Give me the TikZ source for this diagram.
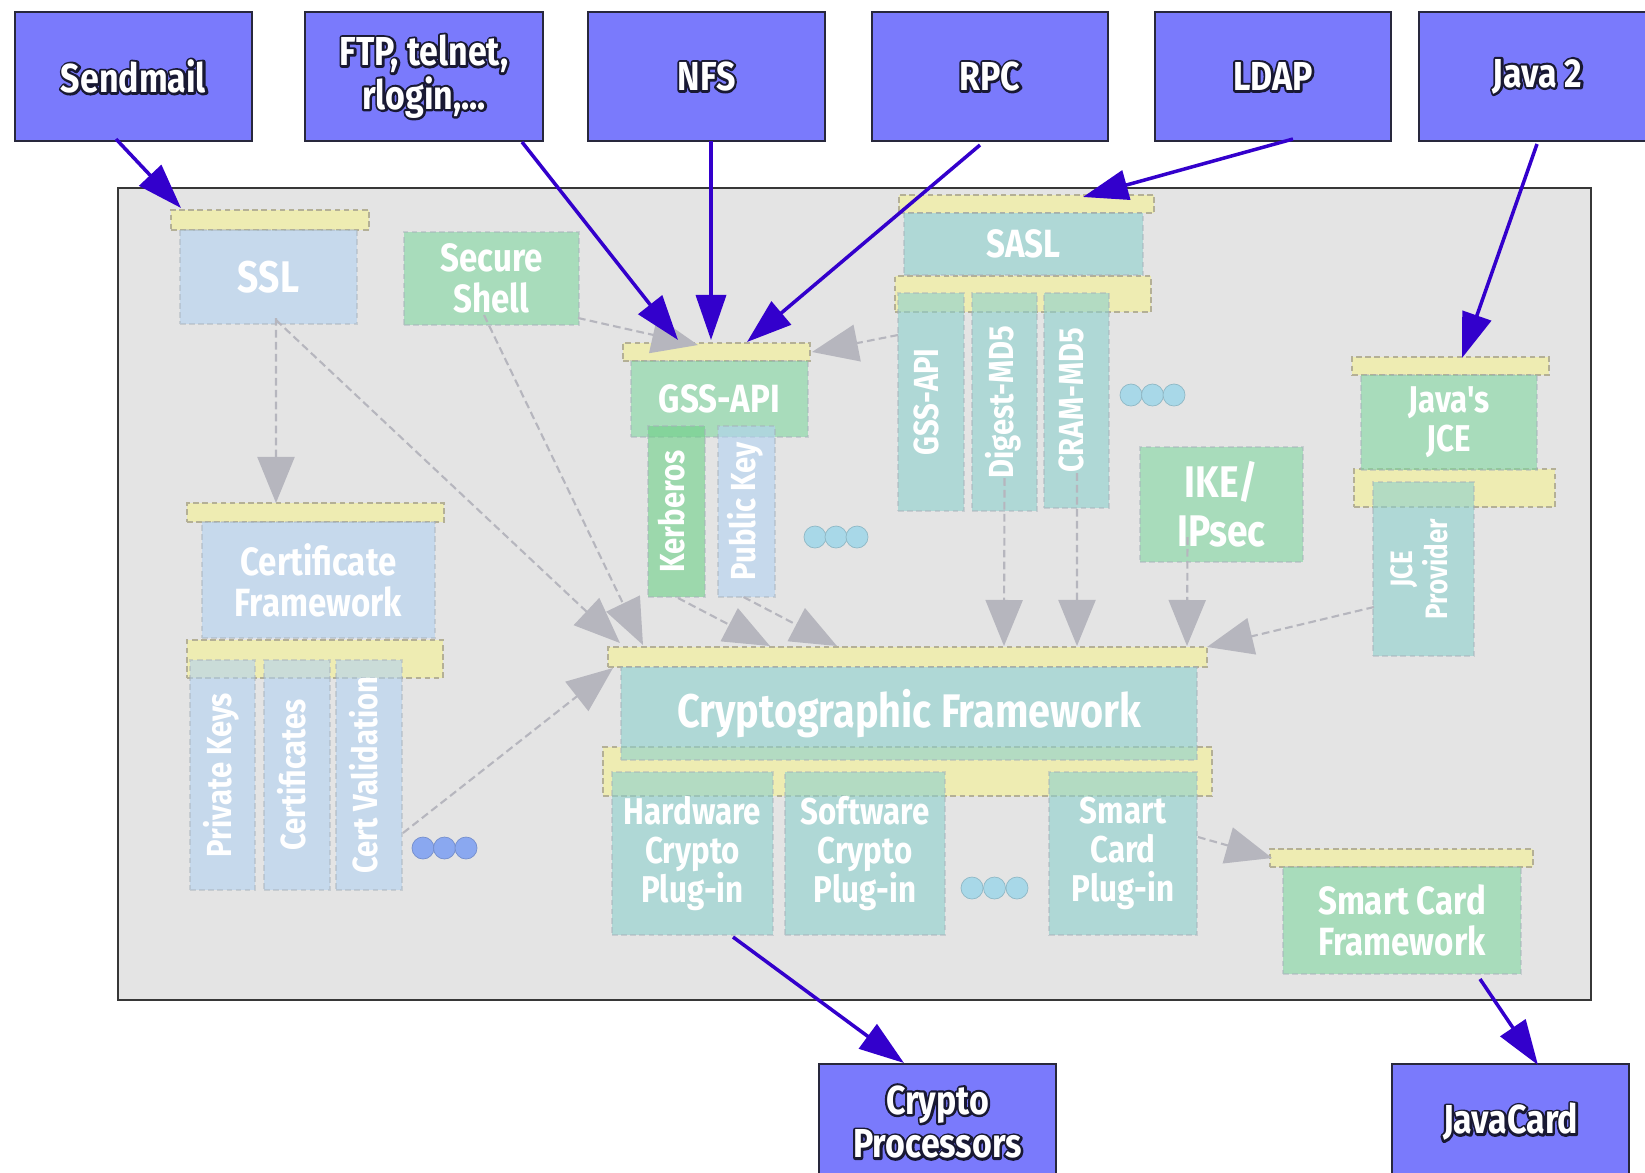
\documentclass[tikz,border=0pt]{standalone}
\usepackage{fontspec}
\usetikzlibrary{arrows.meta,calc}
\newfontfamily\lblfont{Fira Sans}[FakeStretch=0.84]

\definecolor{extfill}{RGB}{122,122,252}
\definecolor{extline}{RGB}{40,40,60}
\definecolor{bgfill}{RGB}{228,228,228}
\definecolor{bgline}{RGB}{55,55,55}
\definecolor{barfill}{RGB}{238,236,178}
\definecolor{barline}{RGB}{180,176,150}
\definecolor{bluebox}{RGB}{178,210,242}
\definecolor{greenbox}{RGB}{128,215,161}
\definecolor{tealbox}{RGB}{141,208,205}
\definecolor{kerbbox}{RGB}{108,208,135}
\definecolor{boxline}{RGB}{165,175,185}
\definecolor{uarrow}{RGB}{51,0,204}
\definecolor{garrow}{RGB}{182,182,190}
\definecolor{dotcyan}{RGB}{168,216,232}
\definecolor{dotblue}{RGB}{138,168,240}

% outlined label text: a dark stroked copy (round joins) under the filled glyphs
\newcommand\ol[1]{\rlap{\special{pdf:literal direct 1 Tr 1.3 w 1 j 0.1 0.1 0.2 RG}#1\special{pdf:literal direct 0 Tr 0 j}}#1}
% vertical label text
\newcommand\vlab[1]{\rotatebox{90}{\begin{tabular}{@{}c@{}}#1\end{tabular}}}
% node from pixel corners: style, name, x1, y1, x2, y2, text
\newcommand\bx[7]{%
  \pgfmathsetmacro\bw{(#5-#3)*0.01}%
  \pgfmathsetmacro\bh{(#6-#4)*0.01}%
  \node[#1, minimum width=\bw cm, minimum height=\bh cm] (#2) at ({(#3+#5)/2},{(#4+#6)/2}) {#7};}

\tikzset{
  core/.style={draw=bgline, line width=0.6pt, fill=bgfill, inner sep=0pt, outer sep=0pt},
  ext/.style={draw=extline, line width=0.7pt, fill=extfill, text=white, align=center,
    inner sep=0pt, outer sep=0pt, font=\lblfont\bfseries\fontsize{11.5}{12.4}\selectfont},
  layer/.style={draw=boxline, dash pattern=on 1.6pt off 1pt, line width=0.3pt,
    fill opacity=0.6, draw opacity=0.45, text opacity=1, text=white, align=center,
    inner sep=0pt, outer sep=0pt},
  bluel/.style={layer, fill=bluebox},
  greenl/.style={layer, fill=greenbox},
  teall/.style={layer, fill=tealbox},
  kerbl/.style={layer, fill=kerbbox},
  bar/.style={draw=barline, dash pattern=on 1.6pt off 1pt, line width=0.3pt, fill=barfill,
    inner sep=0pt, outer sep=0pt},
  fxxl/.style={font=\lblfont\bfseries\fontsize{13.4}{14}\selectfont},
  fxl/.style={font=\lblfont\bfseries\fontsize{12.6}{14}\selectfont},
  fl/.style={font=\lblfont\bfseries\fontsize{11.2}{11.6}\selectfont},
  fm/.style={font=\lblfont\bfseries\fontsize{10.6}{11.2}\selectfont},
  fs/.style={font=\lblfont\bfseries\fontsize{9.9}{10.5}\selectfont},
  fxs/.style={font=\lblfont\bfseries\fontsize{8.8}{9.2}\selectfont},
  uarr/.style={draw=uarrow, line width=1pt, -{Triangle[length=0.45cm, width=0.3cm]}},
  garr/.style={draw=garrow, line width=0.6pt, dash pattern=on 2.2pt off 1.2pt,
    -{Triangle[length=0.46cm, width=0.37cm]}},
  dotc/.style={fill=dotcyan, draw=dotcyan!85!black, line width=0.2pt},
  dotb/.style={fill=dotblue, draw=dotblue!85!black, line width=0.2pt},
}

\begin{document}
\begin{tikzpicture}[x=0.01cm, y=-0.01cm]
\useasboundingbox (0,0) rectangle (1645,1172);
\clip (0,0) rectangle (1645,1172);
\fill[white] (0,0) rectangle (1645,1172);

% the framework area
\bx{core}{core}{118}{188}{1591}{1000}{}

% interface bars
\bx{bar}{sslbar}{171}{210}{369}{230}{}
\bx{bar}{gssbar}{623}{343}{810}{361}{}
\bx{bar}{saslbar}{899}{195}{1154}{213}{}
\bx{bar}{saslbarb}{895}{276}{1151}{312}{}
\bx{bar}{jcebar}{1352}{357}{1549}{375}{}
\bx{bar}{jcebarb}{1354}{469}{1555}{507}{}
\bx{bar}{certbar}{187}{503}{444}{522}{}
\bx{bar}{certbarb}{187}{640}{443}{678}{}
\bx{bar}{cfbar}{608}{647}{1207}{667}{}
\bx{bar}{cfbarb}{603}{747}{1212}{796}{}
\bx{bar}{scfbar}{1270}{849}{1533}{867}{}

% components
\bx{bluel,fxl}{ssl}{180}{230}{357}{324}{SSL}
\bx{greenl,fl}{shell}{404}{232}{579}{325}{Secure\\Shell}
\bx{greenl,fl}{gss}{631}{361}{808}{437}{GSS-API}
\bx{kerbl,fs}{kerb}{648}{426}{705}{597}{\vlab{Kerberos}}
\bx{bluel,fs}{pk}{718}{426}{775}{597}{\vlab{Public Key}}
\bx{teall,fl}{sasl}{904}{213}{1143}{275}{SASL}
\bx{teall,fs}{sgss}{898}{293}{964}{511}{\vlab{GSS-API}}
\bx{teall,fs}{dmd}{972}{293}{1037}{511}{\vlab{Digest-MD5}}
\bx{teall,fs}{cmd}{1044}{293}{1109}{508}{\vlab{CRAM-MD5}}
\bx{greenl,fxl}{ike}{1140}{447}{1303}{562}{IKE/\\IPsec}
\bx{greenl,fm}{jce}{1361}{375}{1537}{470}{Java's\\JCE}
\bx{teall,fxs}{jcep}{1373}{482}{1474}{656}{\vlab{JCE\\Provider}}
\bx{bluel,fl}{cert}{202}{522}{435}{638}{Certificate\\Framework}
\bx{bluel,fs}{pkeys}{190}{660}{255}{890}{\vlab{Private Keys}}
\bx{bluel,fs}{certs}{264}{660}{330}{890}{\vlab{Certificates}}
\bx{bluel,fs}{cval}{336}{660}{402}{890}{\vlab{Cert Validation}}
\bx{teall,fxxl}{cf}{621}{667}{1197}{760}{Cryptographic Framework}
\bx{teall,fm}{hw}{612}{772}{773}{935}{Hardware\\Crypto\\Plug-in}
\bx{teall,fm}{sw}{785}{772}{945}{935}{Software\\Crypto\\Plug-in}
\bx{teall,fm}{scp}{1049}{772}{1197}{935}{Smart\\Card\\Plug-in}
\bx{greenl,fl}{scf}{1283}{867}{1521}{974}{Smart Card\\Framework}

% "more" markers
\foreach \i in {0,1,2} {
  \path[dotc] (1131+21.5*\i,395) circle[radius=0.11cm];
  \path[dotc] (815+21*\i,537) circle[radius=0.11cm];
  \path[dotb] (423+21.5*\i,848) circle[radius=0.11cm];
  \path[dotc] (972+22.5*\i,888) circle[radius=0.11cm];
}

% external users and devices
\bx{ext}{send}{15}{12}{252}{141}{\ol{Sendmail}}
\bx{ext}{ftp}{305}{12}{543}{141}{\ol{FTP, telnet,}\\\ol{rlogin,...}}
\bx{ext}{nfs}{588}{12}{825}{141}{\ol{NFS}}
\bx{ext}{rpc}{872}{12}{1108}{141}{\ol{RPC}}
\bx{ext}{ldap}{1155}{12}{1391}{141}{\ol{LDAP}}
\bx{ext}{javatwo}{1419}{12}{1656}{141}{\ol{Java 2}}
\bx{ext}{cproc}{819}{1064}{1056}{1180}{\ol{Crypto}\\\ol{Processors}}
\bx{ext}{jcard}{1392}{1064}{1629}{1180}{\ol{JavaCard}}

% internal dependencies
\draw[garr] ($(ssl.south west)+(96,-6)$) -- ($(certbar.north west)+(89,0)$);
\draw[garr] ($(ssl.south west)+(96,-4)$) -- ($(cfbar.north west)+(12,-4)$);
\draw[garr] ($(shell.south west)+(80,-10)$) -- ($(cfbar.north west)+(35,-2)$);
\draw[garr] ($(shell.south east)+(-1,-7)$) -- ($(gssbar.north west)+(75,2)$);
\draw[garr] ($(sgss.north west)+(0,42)$) -- ($(gssbar.north east)+(2,9)$);
\draw[garr] ($(kerb.south)+(1.5,1)$) -- ($(cfbar.north west)+(162,-1)$);
\draw[garr] ($(pk.south)+(-3,0)$) -- ($(cfbar.north west)+(229,-1)$);
\draw[garr] ($(cval.south east)+(1,-57)$) -- ($(cfbar.south west)+(5,1)$);
\draw[garr] ($(dmd.south)+(0,-33)$) -- ($(cfbar.north west)+(396,-1)$);
\draw[garr] ($(cmd.south)+(0.5,-35)$) -- ($(cfbar.north west)+(469,-1)$);
\draw[garr] ($(ike.south)+(-34,-25)$) -- ($(cfbar.north west)+(579,-1)$);
\draw[garr] ($(jcep.south west)+(1,-49)$) -- (cfbar.north east);
\draw[garr] ($(scp.north east)+(1,65)$) -- ($(scfbar.north west)+(2,9)$);

% external links
\draw[uarr] ($(send.south west)+(101,-2)$) -- ($(sslbar.north west)+(10,-2)$);
\draw[uarr] ($(ftp.south west)+(217,1)$) -- ($(gssbar.north west)+(55,-3)$);
\draw[uarr] ($(nfs.south west)+(123,0)$) -- ($(gssbar.north west)+(88,-3)$);
\draw[uarr] ($(rpc.south west)+(108,4)$) -- ($(gssbar.north west)+(124,-1)$);
\draw[uarr] ($(ldap.south west)+(138,-2)$) -- ($(saslbar.north west)+(184,2)$);
\draw[uarr] ($(javatwo.south west)+(118,3)$) -- ($(jcebar.north west)+(110,1)$);
\draw[uarr] ($(hw.south west)+(121,2)$) -- ($(cproc.north west)+(85,-1)$);
\draw[uarr] ($(scf.south west)+(197,5)$) -- ($(jcard.north west)+(146,1)$);
\end{tikzpicture}
\end{document}
